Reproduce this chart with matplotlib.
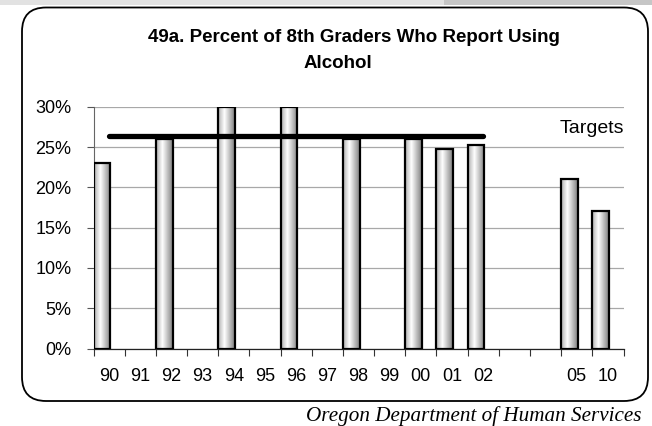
import numpy as np
import matplotlib
matplotlib.use("Agg")
import matplotlib.pyplot as plt
from matplotlib.patches import FancyBboxPatch, Rectangle

# ---------------- data ----------------
year_labels = ['90', '91', '92', '93', '94', '95', '96', '97', '98', '99',
               '00', '01', '02', '', '', '05', '10']
percent_values = [23, None, 26, None, 30, None, 30, None, 26, None,
                  26, 24.8, 25.2, None, None, 21, 17]
target_from, target_to = '90', '02'
target_value = 26.4
y_ticks = [0, 5, 10, 15, 20, 25, 30]
y_tick_labels = ['0%', '5%', '10%', '15%', '20%', '25%', '30%']
title_line1 = '49a. Percent of 8th Graders Who Report Using'
title_line2 = 'Alcohol'
target_label = 'Targets'
source_text = 'Oregon Department of Human Services'

# ---------------- figure ----------------
plt.rcParams['font.family'] = ['Liberation Sans', 'DejaVu Sans']
W, H = 652, 426
fig = plt.figure(figsize=(W / 100, H / 100), dpi=100)
fig.patch.set_facecolor('white')

# background layer in pixel units
bg = fig.add_axes([0, 0, 1, 1], zorder=0)
bg.set_xlim(0, W)
bg.set_ylim(H, 0)
bg.axis('off')
bg.add_patch(Rectangle((0, 0), W, 5, facecolor='#e2e2e2', edgecolor='none'))
bg.add_patch(Rectangle((444, 0), W - 444, 5, facecolor='#c6c6c6', edgecolor='none'))
bg.add_patch(FancyBboxPatch((22, 7.5), 626, 393.5,
                            boxstyle='round,pad=0,rounding_size=24',
                            facecolor='white', edgecolor='black', linewidth=1.3))
bg.text(354, 38, title_line1, ha='center', va='center', fontsize=13.5,
        fontweight='bold')
bg.text(338, 63, title_line2, ha='center', va='center', fontsize=13.5,
        fontweight='bold')
bg.text(641, 421, source_text, ha='right', va='baseline', fontsize=15.2,
        style='italic', family=['Liberation Serif', 'DejaVu Serif'])

# main axes
left, right = 93.5 / W, 623.5 / W
bottom, top = 1 - 348.5 / H, 1 - 106.7 / H
ax = fig.add_axes([left, bottom, right - left, top - bottom], zorder=1)
ax.patch.set_alpha(0)

n = len(year_labels)
bar_w = 0.535
xs = np.arange(n)

# gradient (cylinder-like shading)
g = np.linspace(0, 1, 64)
shade = np.interp(g, [0, 0.38, 1.0], [0.68, 1.0, 0.5])
grad = np.tile(shade, (2, 1))

for i, v in enumerate(percent_values):
    if v is None:
        continue
    b = ax.bar(xs[i], v, width=bar_w, align='edge', facecolor='none',
               edgecolor='black', linewidth=1.6, zorder=4)[0]
    im = ax.imshow(grad, extent=[xs[i], xs[i] + bar_w, 0, v], aspect='auto',
                   cmap='gray', vmin=0, vmax=1, zorder=3, interpolation='bilinear')
    im.set_clip_path(b)

# target line
i0 = year_labels.index(target_from) + 0.5
i1 = year_labels.index(target_to) + 0.5
ax.plot([i0, i1], [target_value, target_value], color='black', linewidth=3.8,
        solid_capstyle='round', zorder=5)
ax.text(16.0, 27.25, target_label, ha='center', va='center', fontsize=14)

ax.set_xlim(0, n)
ax.set_ylim(0, 30)

# y axis
ax.set_yticks(y_ticks)
ax.set_yticklabels(y_tick_labels, fontsize=13)
ax.tick_params(axis='y', direction='out', length=5, width=0.8, color='#555555',
               pad=11)
ax.yaxis.grid(True, color='#a8a8a8', linewidth=0.9)
ax.set_axisbelow(True)

# x axis: tick marks on boundaries, labels at centers
ax.set_xticks(np.arange(n + 1))
ax.set_xticklabels([])
ax.set_xticks(xs + 0.5, minor=True)
ax.set_xticklabels(year_labels, minor=True, fontsize=13)
ax.tick_params(axis='x', which='major', direction='out', length=5, width=0.8,
               color='#333333')
ax.tick_params(axis='x', which='minor', length=0, pad=14)

for s in ['top', 'right']:
    ax.spines[s].set_visible(False)
ax.spines['left'].set_color('#666666')
ax.spines['left'].set_linewidth(0.8)
ax.spines['bottom'].set_color('#222222')
ax.spines['bottom'].set_linewidth(0.9)

fig.savefig('out.png', dpi=100)
